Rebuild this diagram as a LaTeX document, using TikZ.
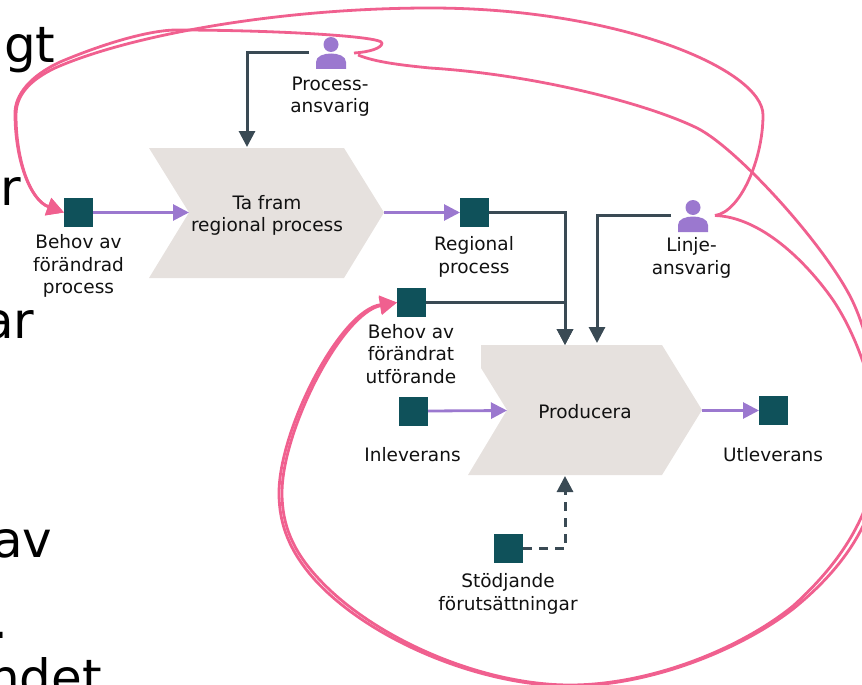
\documentclass[tikz,border=0pt]{standalone}
\usepackage{fontspec}
\setmainfont{DejaVu Sans}
\usetikzlibrary{arrows.meta}
\definecolor{teal0}{HTML}{0F515A}
\definecolor{purp}{HTML}{9B78CF}
\definecolor{pinkc}{HTML}{F0608F}
\definecolor{darkl}{HTML}{3A4A54}
\definecolor{beige}{HTML}{E6E1DE}
\definecolor{txt}{HTML}{111111}
\tikzset{
  sq/.style={fill=teal0,draw=none,minimum size=29pt,inner sep=0pt,outer sep=0pt},
  lab/.style={text=txt,align=center,inner sep=0pt,font=\fontsize{18.5}{22.3}\selectfont},
  big/.style={text=black,anchor=base west,inner sep=0pt,font=\fontsize{50}{50}\selectfont},
  chev/.style={fill=beige,draw=none},
  flow/.style={draw=purp,line width=2.8pt,-{Triangle[length=16pt,width=16pt]}},
  ctrl/.style={draw=darkl,line width=3pt,-{Triangle[length=16pt,width=16pt]}},
  pinkl/.style={draw=pinkc,line width=2.8pt,line join=round},
  pinkh/.style={-{Triangle[length=17pt,width=18pt]}},
  icon/.style={fill=purp,draw=none}
}
\newcommand{\persona}[3]{%
  \fill[icon] (#1,#2-8.5) circle (7.5);
  \fill[icon] (#1-15,#2+16) -- (#1-15,#2+9) .. controls (#1-15,#2+3) and (#1-7,#2+0.5) .. (#1,#2+0.5)
     .. controls (#1+7,#2+0.5) and (#1+15,#2+3) .. (#1+15,#2+9) -- (#1+15,#2+16) -- cycle;
  \coordinate (#3) at (#1,#2);
}
\begin{document}
\begin{tikzpicture}[x=1pt,y=-1pt]
\useasboundingbox (0,0) rectangle (862,685);
\clip (0,0) rectangle (862,685);
% cropped background text
\node[big] (t1) at (4,63) {gt};
\node[big] (t2) at (0,205) {r};
\node[big] (t3) at (-17,338) {ar};
\node[big] (t4) at (-8,557) {av};
\node[big] (t5) at (-7.5,638) {.};
\node[big] (t6) at (-12,695) {ndet};
% chevrons
\fill[chev] (149,148) -- (344,148) -- (384,212.5) -- (344,278) -- (149,278) -- (189,212.5) -- cycle;
\fill[chev] (481,345) -- (662,345) -- (702,410) -- (662,475) -- (468,475) -- (507,410) -- (481,368) -- cycle;
\node[lab] (p1) at (267,215.5) {Ta fram\\regional process};
\node[lab] (p2) at (585,412) {Producera};
\coordinate (p1n) at (247,147);
\coordinate (p1w) at (189,212.5);
\coordinate (p1e) at (384,212.5);
\coordinate (p2n1) at (565,345);
\coordinate (p2n2) at (597,343);
\coordinate (p2w) at (507,410.5);
\coordinate (p2e) at (702,410.5);
\coordinate (p2s) at (565,476);
% squares
\node[sq] (bp) at (78.5,212.5) {};
\node[sq] (rp) at (474.5,212.5) {};
\node[sq] (bu) at (411.5,302.5) {};
\node[sq] (in) at (413.5,411) {};
\node[sq] (ut) at (773.5,410.5) {};
\node[sq] (st) at (508.5,548.5) {};
% persons
\persona{331}{53}{pa}
\persona{693}{216}{la}
\coordinate (paw) at (309,53);
\coordinate (pae) at (354,53);
\coordinate (pae2) at (358,55);
\coordinate (law) at (671,215.5);
\coordinate (lae) at (715,215.5);
% labels
\node[lab] (lbp) at (78.5,266) {Behov av\\förändrad\\process};
\node[lab] (lrp) at (474,257) {Regional\\process};
\node[lab] (lbu) at (411,354) {Behov av\\förändrat\\utförande};
\node[lab] (lin) at (412.5,454.5) {Inleverans};
\node[lab] (lut) at (773,454.5) {Utleverans};
\node[lab] (lst) at (508,594) {Stödjande\\förutsättningar};
\node[lab] (lpa) at (330,97) {Process-\\ansvarig};
\node[lab] (lla) at (691.5,258) {Linje-\\ansvarig};
% flows
\draw[flow] (bp.east) -- (p1w);
\draw[flow] (p1e) -- (rp.west);
\draw[flow] (in.east) -- (p2w);
\draw[flow] (p2e) -- (ut.west);
% control
\draw[ctrl] (paw) -| (p1n);
\draw[ctrl] (law) -| (p2n2);
\draw[ctrl] (rp.east) -| (p2n1);
\draw[ctrl] (bu.east) -| (p2n1);
\draw[ctrl,dash pattern=on 9pt off 7pt] (st.east) -| (p2s);
% pink
\draw[pinkl,pinkh] (lae) .. controls (740,212) and (763,160) .. (763,115)
  .. controls (763,70) and (620,8) .. (430,8)
  .. controls (280,8) and (130,35) .. (55,68)
  .. controls (30,80) and (16,95) .. (16,115)
  .. controls (16,160) and (30,200) .. (bp.west);
\draw[pinkl,pinkh] (pae) .. controls (370,52) and (382,48) .. (382,43)
  .. controls (382,36) and (270,30) .. (177,30)
  .. controls (150,30) and (105,43) .. (60,62)
  .. controls (30,76) and (15,95) .. (15,113)
  .. controls (15,160) and (30,200) .. (bp.west);
\draw[pinkl,pinkh] (pae2) .. controls (375,62) and (400,65) .. (430,68)
  .. controls (540,75) and (650,105) .. (697,128)
  .. controls (737,148) and (825,245) .. (852,300)
  .. controls (870,337) and (882,400) .. (882,440)
  .. controls (882,500) and (860,555) .. (793,609)
  .. controls (740,650) and (650,686) .. (570,686)
  .. controls (480,686) and (370,640) .. (315,580)
  .. controls (290,552) and (279,525) .. (279,493)
  .. controls (279,430) and (340,310) .. (bu.west);
\draw[pinkl,pinkh] (lae) .. controls (760,217) and (805,260) .. (833,300)
  .. controls (860,340) and (878,400) .. (878,440)
  .. controls (878,495) and (855,550) .. (793,606)
  .. controls (740,649) and (650,685) .. (570,685)
  .. controls (480,685) and (372,637) .. (318,578)
  .. controls (293,551) and (282,525) .. (282,493)
  .. controls (282,430) and (342,313) .. (bu.west);
\end{tikzpicture}
\end{document}
